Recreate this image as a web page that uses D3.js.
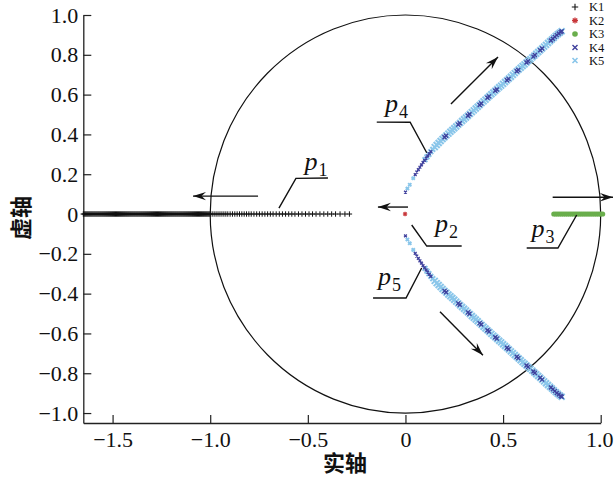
<!DOCTYPE html>
<html><head><meta charset="utf-8">
<script src="https://cdn.jsdelivr.net/npm/d3@7/dist/d3.min.js"></script>
<style>
html,body{margin:0;padding:0;background:#fff;}
svg{display:block;}
</style></head>
<body>
<svg id="chart" width="614" height="490"></svg>
<script>
// ---------- DATA ----------
const xTicks = [-1.5, -1.0, -0.5, 0, 0.5, 1.0];
const xTickLabels = ["\u22121.5", "\u22121.0", "\u22120.5", "0", "0.5", "1.0"];
const yTicks = [1.0, 0.8, 0.6, 0.4, 0.2, 0, -0.2, -0.4, -0.6, -0.8, -1.0];
const yTickLabels = ["1.0", "0.8", "0.6", "0.4", "0.2", "0", "\u22120.2", "\u22120.4", "\u22120.6", "\u22120.8", "\u22121.0"];
const seriesNames = ["K1", "K2", "K3", "K4", "K5"];

// K1: real poles p1 (imaginary part 0)
const K1_re = [
-1.650,-1.645,-1.640,-1.635,-1.630,-1.625,-1.620,-1.615,-1.610,-1.605,
-1.600,-1.595,-1.590,-1.585,-1.580,-1.575,-1.570,-1.565,-1.560,-1.555,
-1.550,-1.545,-1.540,-1.535,-1.530,-1.525,-1.520,-1.515,-1.510,-1.505,
-1.500,-1.495,-1.490,-1.485,-1.480,-1.475,-1.470,-1.465,-1.460,-1.455,
-1.450,-1.445,-1.440,-1.435,-1.430,-1.425,-1.420,-1.415,-1.410,-1.405,
-1.400,-1.395,-1.390,-1.385,-1.380,-1.375,-1.370,-1.365,-1.360,-1.355,
-1.350,-1.345,-1.340,-1.335,-1.330,-1.325,-1.320,-1.315,-1.310,-1.305,
-1.300,-1.295,-1.290,-1.285,-1.280,-1.275,-1.270,-1.265,-1.260,-1.255,
-1.250,-1.245,-1.240,-1.235,-1.230,-1.225,-1.220,-1.215,-1.210,-1.205,
-1.200,-1.195,-1.190,-1.185,-1.180,-1.175,-1.170,-1.165,-1.160,-1.155,
-1.150,-1.145,-1.140,-1.135,-1.130,-1.125,-1.120,-1.115,-1.110,-1.105,
-1.100,-1.095,-1.090,-1.085,-1.080,-1.075,-1.070,-1.065,-1.060,-1.055,
-1.050,-1.045,-1.040,-1.035,-1.030,-1.025,-1.020,-1.015,-1.010,-1.005,
-1.000,-0.990,-0.980,-0.970,-0.960,-0.950,-0.940,-0.930,-0.920,-0.910,
-0.898,-0.886,-0.874,-0.862,-0.850,-0.838,-0.826,-0.814,-0.802,-0.790,
-0.776,-0.762,-0.748,-0.734,-0.720,-0.706,-0.692,-0.678,
-0.662,-0.646,-0.630,-0.614,-0.598,-0.582,-0.566,
-0.548,-0.530,-0.512,-0.494,-0.476,-0.458,
-0.438,-0.418,-0.398,-0.378,-0.358,-0.335,-0.310,-0.287
];
// K2: single pole p2 near origin
const K2_re = [-0.002];
const K2_im = [0.0];
// K3: real poles p3
const K3_re = [0.760,0.770,0.780,0.790,0.800,0.810,0.820,0.830,0.840,0.850,0.860,0.870,0.880,
               0.890,0.900,0.910,0.920,0.930,0.940,0.950,0.960,0.970,0.980,0.990,1.000,1.010];
// K4: complex pole pair p4/p5 (upper half; lower half is the conjugate)
const K4_re = [0.000,0.050,0.058,0.066,0.074,0.082,0.090,0.098,0.106,0.114,0.122,0.130,
               0.200,0.208,0.270,0.278,0.320,0.328,0.380,0.388,0.420,0.428,0.460,0.468,
               0.520,0.528,0.570,0.578,0.620,0.628,0.655,0.663,0.690,0.700,
               0.745,0.755,0.765,0.775,0.785,0.795,0.800];
const K4_im = [0.110,0.198,0.211,0.223,0.235,0.247,0.259,0.270,0.281,0.292,0.303,0.313,
               0.386,0.393,0.449,0.456,0.494,0.501,0.548,0.555,0.584,0.591,0.619,0.626,
               0.672,0.679,0.717,0.724,0.761,0.768,0.791,0.799,0.823,0.832,
               0.872,0.881,0.890,0.899,0.907,0.914,0.918];
// K5: complex pole pair p4/p5 (upper half; lower half is the conjugate)
const K5_re = [0.010,0.022,0.040,0.100,0.110,0.120,0.130,0.140,
               0.150,0.160,0.170,0.180,0.190,0.200,0.210,0.220,0.230,0.240,0.250,0.260,0.270,
               0.280,0.290,0.300,0.310,0.320,0.330,0.340,0.350,0.360,0.370,0.380,0.390,0.400,
               0.410,0.420,0.430,0.440,0.450,0.460,0.470,0.480,0.490,0.500,0.510,0.520,0.530,
               0.540,0.550,0.560,0.570,0.580,0.590,0.600,0.610,0.620,0.630,0.640,0.650,0.660,
               0.670,0.680,0.690,0.700,0.710,0.720,0.730,0.740,0.750,0.760,0.770,0.780,0.790,0.800];
const K5_im = [0.128,0.147,0.180,0.273,0.287,0.300,0.313,0.325,
               0.336,0.347,0.357,0.367,0.377,0.386,0.395,0.404,0.413,0.422,0.431,0.440,0.449,
               0.458,0.467,0.476,0.485,0.494,0.503,0.512,0.521,0.530,0.539,0.548,0.557,0.566,
               0.575,0.584,0.593,0.602,0.611,0.619,0.628,0.637,0.645,0.654,0.663,0.672,0.681,
               0.690,0.699,0.708,0.717,0.726,0.735,0.744,0.752,0.761,0.770,0.778,0.787,0.796,
               0.805,0.814,0.823,0.832,0.841,0.850,0.859,0.868,0.877,0.886,0.895,0.903,0.911,0.918];

// Annotation arrows (data coordinates: [x1,y1,x2,y2])
const arrows = [
  [-0.755, 0.090, -1.088, 0.090],
  [0.013, 0.035, -0.141, 0.035],
  [0.754, 0.084, 1.063, 0.084],
  [0.233, 0.553, 0.474, 0.789],
  [0.177, -0.491, 0.397, -0.709]
];
// Leader lines for labels (data coordinates)
const leaders = [
  [[-0.648, 0.030], [-0.561, 0.179], [-0.397, 0.181]],
  [[0.032, -0.055], [0.109, -0.161], [0.288, -0.161]],
  [[0.877, -0.005], [0.781, -0.171], [0.621, -0.171]],
  [[0.109, 0.308], [0.024, 0.461], [-0.147, 0.462]],
  [[0.083, -0.271], [0.003, -0.422], [-0.166, -0.422]]
];
const poleLabels = ["1", "2", "3", "4", "5"];
// label anchor (data coords of the "p" baseline-left)
const labelPos = [[-0.517, 0.221], [0.151, -0.089], [0.646, -0.114], [-0.105, 0.514], [-0.141, -0.357]];

// ---------- CHART ----------
const svg = d3.select("#chart");
const x = d3.scaleLinear().domain([-1.65, 1.0]).range([83.3, 600.7]);
const y = d3.scaleLinear().domain([-1.05, 1.0]).range([423, 15]);
const serif = "'Liberation Serif', 'Times New Roman', serif";

// unit circle
svg.append("ellipse")
  .attr("cx", x(0)).attr("cy", y(0))
  .attr("rx", x(1) - x(0)).attr("ry", y(0) - y(1))
  .attr("fill", "none").attr("stroke", "#111").attr("stroke-width", 1.2);

// axes
const xAxis = d3.axisBottom(x).tickValues(xTicks).tickFormat((d, i) => xTickLabels[i])
  .tickSizeInner(-8).tickSizeOuter(0).tickPadding(8);
const yAxis = d3.axisLeft(y).tickValues(yTicks).tickFormat((d, i) => yTickLabels[i])
  .tickSizeInner(-8).tickSizeOuter(0).tickPadding(5);

const gx = svg.append("g").attr("transform", `translate(0,${y(-1.05)})`).call(xAxis);
const gy = svg.append("g").attr("transform", `translate(${x(-1.65)},0)`).call(yAxis);
[gx, gy].forEach(g => {
  g.attr("font-family", serif).attr("font-size", 22);
  g.selectAll("path.domain").attr("stroke", "#222").attr("stroke-width", 1.3);
  g.selectAll(".tick line").attr("stroke", "#222").attr("stroke-width", 1.2);
  g.selectAll(".tick text").style("font-family", serif).style("font-size", "22px").attr("fill", "#111");
});
gx.selectAll(".tick text").filter((d, i) => i === xTicks.length - 1).attr("dx", -1.5);

// axis titles
svg.append("text").attr("x", 345).attr("y", 471).attr("text-anchor", "middle")
  .style("font-family", "Noto Sans CJK SC").attr("font-weight", "bold").attr("font-size", 22)
  .attr("fill", "#111").text("实轴");
svg.append("text").attr("transform", "translate(19,218) rotate(-90)")
  .attr("text-anchor", "middle").attr("dominant-baseline", "central")
  .style("font-family", "Noto Sans CJK SC").attr("font-weight", "bold").attr("font-size", 22)
  .attr("fill", "#111").text("虚轴");

// markers
function plus(g, cx, cy, s, color, w) {
  g.append("path").attr("d", `M${cx - s},${cy}H${cx + s}M${cx},${cy - s}V${cy + s}`)
    .attr("stroke", color).attr("stroke-width", w).attr("fill", "none");
}
function cross(g, cx, cy, s, color, w) {
  g.append("path").attr("d", `M${cx - s},${cy - s}L${cx + s},${cy + s}M${cx - s},${cy + s}L${cx + s},${cy - s}`)
    .attr("stroke", color).attr("stroke-width", w).attr("fill", "none");
}
function star(g, cx, cy, s, color, w) {
  const d = s * 0.72;
  g.append("path").attr("d",
    `M${cx - s},${cy}H${cx + s}M${cx},${cy - s}V${cy + s}M${cx - d},${cy - d}L${cx + d},${cy + d}M${cx - d},${cy + d}L${cx + d},${cy - d}`)
    .attr("stroke", color).attr("stroke-width", w).attr("fill", "none");
}

const C1 = "#111111", C2 = "#c8373a", C3 = "#6aae4c", C4 = "#3f3f9c", C5 = "#8ac6ea";

const gK1 = svg.append("g");
K1_re.forEach(v => plus(gK1, x(v), y(0), 2.7, C1, 1.0));

const gK3 = svg.append("g");
K3_re.forEach(v => gK3.append("circle").attr("cx", x(v)).attr("cy", y(0)).attr("r", 2.6).attr("fill", C3));

const gK5 = svg.append("g");
K5_re.forEach((v, i) => {
  const s = v < 0.05 ? 1.6 : (v < 0.15 ? 2.4 : 3.0);
  cross(gK5, x(v), y(K5_im[i]), s, C5, 2.0);
  cross(gK5, x(v), y(-K5_im[i]), s, C5, 2.0);
});
const gK4 = svg.append("g");
K4_re.forEach((v, i) => {
  const s = v < 0.15 ? 1.4 : 2.0;
  cross(gK4, x(v), y(K4_im[i]), s, C4, 1.3);
  cross(gK4, x(v), y(-K4_im[i]), s, C4, 1.3);
});
const gK2 = svg.append("g");
K2_re.forEach((v, i) => star(gK2, x(v), y(K2_im[i]), 2.2, C2, 1.1));

// arrowhead marker
const defs = svg.append("defs");
defs.append("marker").attr("id", "ah").attr("viewBox", "-13 -5 15 10")
  .attr("refX", 0).attr("refY", 0).attr("markerWidth", 15).attr("markerHeight", 10)
  .attr("markerUnits", "userSpaceOnUse").attr("orient", "auto")
  .append("path").attr("d", "M0,0 L-13,-4.2 L-8.5,0 L-13,4.2 Z").attr("fill", "#111");

arrows.forEach(a => {
  svg.append("line").attr("x1", x(a[0])).attr("y1", y(a[1])).attr("x2", x(a[2])).attr("y2", y(a[3]))
    .attr("stroke", "#111").attr("stroke-width", 1.4).attr("marker-end", "url(#ah)");
});

const lineGen = d3.line().x(d => x(d[0])).y(d => y(d[1]));
leaders.forEach(l => {
  svg.append("path").attr("d", lineGen(l)).attr("fill", "none").attr("stroke", "#111").attr("stroke-width", 1.4);
});

labelPos.forEach((p, i) => {
  const t = svg.append("text").attr("x", x(p[0])).attr("y", y(p[1]))
    .style("font-family", serif).attr("fill", "#111");
  t.append("tspan").attr("font-style", "italic").attr("font-size", 26).text("p");
  t.append("tspan").attr("font-size", 18).attr("dx", 1).attr("dy", 6).text(poleLabels[i]);
});

// legend
const legY = [7, 20.5, 34, 47.5, 60.5];
const lg = svg.append("g");
plus(lg, 575, legY[0], 3.2, C1, 1.1);
star(lg, 575, legY[1], 3.0, C2, 1.3);
lg.append("circle").attr("cx", 575).attr("cy", legY[2]).attr("r", 2.8).attr("fill", C3);
cross(lg, 575, legY[3], 2.5, C4, 1.4);
cross(lg, 575, legY[4], 2.5, C5, 1.6);
seriesNames.forEach((n, i) => {
  lg.append("text").attr("x", 589).attr("y", legY[i]).attr("dominant-baseline", "central")
    .style("font-family", serif).attr("font-size", 12.5).attr("fill", "#111").text(n);
});
</script>
</body></html>
